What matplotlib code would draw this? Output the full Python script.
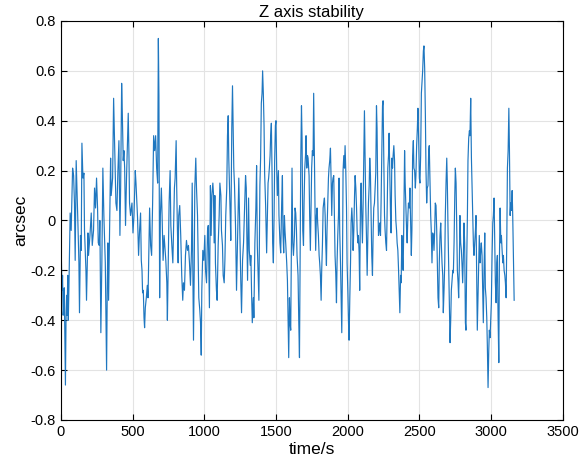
import matplotlib
matplotlib.use('Agg')
import matplotlib.pyplot as plt
from matplotlib.ticker import FuncFormatter

plt.rcParams['font.family'] = ['Liberation Sans', 'DejaVu Sans']
plt.rcParams['axes.unicode_minus'] = False

# time (s) and Z axis error (arcsec)
time_s = [
    0, 3, 8, 12, 16, 20, 24, 28, 32, 36, 40, 44, 48, 52, 56,
    65, 72, 82, 89, 95, 100, 107, 112, 119, 126, 130, 137, 142, 147, 154,
    161, 165, 175, 179, 189, 193, 203, 212, 219, 228, 235, 242, 249, 256, 261,
    268, 272, 279, 286, 293, 300, 310, 319, 324,
    328, 333, 347, 351, 361, 368, 375, 384, 391, 398, 405, 412, 417, 424, 428,
    435, 440, 445, 451, 458, 465, 470, 475, 479, 486, 496, 503, 510, 519, 524,
    528, 535, 542, 549, 556, 561, 566, 570, 575, 580, 584, 589, 596, 603, 608,
    615, 619, 626, 633, 640, 647, 654, 661, 668, 675, 680, 684, 689,
    694, 701, 706, 713, 720, 725, 732, 739, 743, 748, 755, 762, 767, 774, 781,
    785, 792, 797, 804, 808, 813, 818, 822, 829, 836, 843, 850, 855, 862, 869,
    876, 883, 890, 897, 904, 911, 916, 920, 925, 930, 934, 941, 946, 953, 958,
    962, 969, 974, 979, 983, 990, 997, 1004, 1009, 1016, 1023, 1028,
    1032, 1036, 1043, 1048, 1053, 1060, 1064, 1069, 1074, 1078, 1085, 1090, 1097, 1104, 1109,
    1116, 1120, 1127, 1132, 1139, 1144, 1150, 1157, 1162, 1167, 1171, 1176, 1181, 1185, 1192,
    1197, 1202, 1206, 1211, 1218, 1225, 1232, 1237, 1241, 1248, 1255, 1260, 1267, 1274, 1281,
    1288, 1293, 1297, 1302, 1309, 1314, 1321, 1325, 1330, 1335, 1342, 1346, 1353, 1360, 1365,
    1370, 1377, 1381, 1388,
    1393, 1398, 1403, 1407, 1412, 1417, 1421, 1428, 1435, 1440, 1445, 1449, 1454, 1459, 1463,
    1468, 1473, 1477, 1482, 1487, 1491, 1496, 1500, 1505, 1510, 1517, 1521, 1528, 1533, 1540,
    1545, 1549, 1554, 1559, 1563, 1568, 1575, 1580, 1584, 1589, 1594, 1598, 1603, 1608, 1612,
    1617, 1622, 1629, 1633, 1638, 1643, 1647, 1654, 1659, 1664, 1668, 1673, 1678, 1682, 1687,
    1692, 1696, 1701, 1706, 1710, 1715, 1720, 1724,
    1731, 1735, 1740, 1745, 1749, 1754, 1759, 1763, 1768, 1773, 1777, 1782, 1787, 1791, 1796,
    1801, 1805, 1810, 1815, 1819, 1824, 1829, 1833, 1838, 1843, 1847, 1852, 1856, 1861, 1866,
    1870, 1875, 1880, 1884, 1889, 1894, 1898, 1903, 1908, 1912, 1917, 1922, 1926, 1931, 1936,
    1940, 1945, 1950, 1954, 1959, 1964, 1968, 1973, 1978, 1982, 1987, 1992, 1996, 2001, 2006,
    2010, 2015, 2020, 2024, 2029, 2034, 2038, 2043, 2048, 2052, 2057, 2062, 2066, 2071,
    2075, 2080, 2084, 2089, 2094, 2098, 2103, 2108, 2112, 2117, 2122, 2126, 2131, 2136, 2140,
    2145, 2150, 2154, 2159, 2164, 2168, 2173, 2178, 2182, 2187, 2192, 2196, 2201, 2205, 2210,
    2215, 2219, 2224, 2229, 2233, 2238, 2243, 2247, 2252, 2257, 2261, 2266, 2271, 2275, 2280,
    2285, 2289, 2294, 2299, 2303, 2308, 2313, 2317, 2322, 2327, 2331, 2336, 2341, 2345, 2350,
    2355, 2359, 2364, 2369, 2373, 2378, 2383, 2387, 2392, 2397, 2401, 2406, 2411, 2415, 2420,
    2424, 2430, 2434, 2439, 2444, 2448, 2453, 2458, 2462, 2467, 2472, 2476, 2481, 2486, 2490,
    2495, 2500, 2504, 2509, 2514, 2518, 2523, 2528, 2532, 2537, 2542, 2546, 2551, 2555, 2560,
    2565, 2569, 2574, 2579, 2583, 2588, 2593, 2597, 2602, 2607, 2611, 2616, 2621, 2625, 2630,
    2635, 2639, 2644, 2649, 2653, 2658, 2663, 2667, 2672, 2677, 2681, 2686, 2691, 2695, 2700,
    2705, 2709, 2714, 2719, 2723, 2728, 2733, 2737, 2742, 2747, 2751, 2756, 2761, 2765, 2770,
    2774, 2779, 2783, 2788, 2793, 2797, 2802, 2807, 2811, 2816, 2821, 2825, 2830, 2835, 2839,
    2844, 2849, 2853, 2858, 2863, 2867, 2872, 2877, 2881, 2886, 2891, 2895, 2900, 2904, 2909,
    2914, 2918, 2923, 2928, 2932, 2937, 2942, 2946, 2951, 2956, 2960, 2965, 2970, 2974, 2979,
    2984, 2988, 2993, 2998, 3002, 3007, 3012, 3016, 3021, 3026, 3030, 3035, 3040, 3044, 3049,
    3054, 3058, 3063, 3068, 3072, 3077, 3082, 3086, 3091, 3096, 3100, 3105, 3110, 3114, 3119,
    3124, 3128, 3133, 3137, 3142, 3147, 3151, 3156, 3161,
]

z_arcsec = [
    -0.68, -0.13, -0.28, -0.22, -0.38, -0.35, -0.27, -0.45, -0.66, -0.40, -0.30, -0.38, -0.22, -0.40, -0.28,
    0.03, -0.04, 0.21, 0.18, 0.07, -0.16, 0.24, 0.14, -0.01, -0.17, -0.37, -0.06, -0.12, 0.31, 0.17,
    0.19, -0.04, -0.20, -0.32, -0.05, -0.14, -0.06, 0.03, -0.10, -0.04, 0.13, 0.05, 0.17, 0.05, -0.09,
    -0.10, 0.00, -0.45, -0.17, 0.21, 0.02, -0.17, -0.60, -0.25,
    -0.09, -0.32, 0.25, 0.10, 0.17, 0.49, 0.30, 0.07, 0.04, 0.20, 0.32, -0.06, 0.13, 0.55, 0.45,
    0.24, 0.28, 0.21, -0.02, 0.17, 0.33, 0.43, 0.26, 0.07, 0.02, 0.07, -0.05, 0.02, 0.20, 0.15,
    0.10, 0.01, -0.14, -0.04, 0.03, -0.16, -0.20, -0.29, -0.28, -0.39, -0.43, -0.35, -0.31, -0.26, -0.31,
    -0.09, 0.05, -0.10, -0.14, 0.07, 0.34, 0.28, 0.34, 0.21, 0.15, 0.73, 0.50, -0.31,
    0.02, 0.13, 0.02, -0.16, -0.06, -0.10, -0.16, -0.25, -0.40, -0.20, 0.07, 0.20, -0.02, -0.10, -0.17,
    -0.06, 0.13, 0.17, 0.32, 0.13, -0.04, -0.17, 0.02, 0.06, -0.06, -0.22, -0.32, -0.25, -0.28, -0.14,
    -0.08, -0.12, -0.10, -0.17, -0.26, -0.12, 0.15, -0.17, -0.48, -0.20, 0.13, 0.25, 0.13, 0.02, -0.16,
    -0.31, -0.36, -0.41, -0.54, -0.28, -0.12, -0.16, -0.06, -0.20, -0.25, -0.04, -0.02,
    -0.20, -0.35, 0.14, -0.06, 0.10, 0.15, 0.11, -0.09, 0.10, -0.17, -0.28, -0.32, -0.10, 0.02, 0.15,
    0.10, -0.04, -0.10, -0.22, -0.25, -0.16, 0.02, 0.13, 0.34, 0.42, 0.25, 0.14, 0.02, -0.08, 0.37,
    0.54, 0.37, 0.21, 0.14, -0.02, -0.28, -0.09, 0.05, 0.17, -0.04, -0.25, -0.37, -0.16, -0.09, 0.05,
    0.18, 0.13, -0.06, -0.24, 0.09, -0.12, -0.18, -0.14, -0.29, -0.41, -0.31, -0.39, -0.09, 0.05, 0.22,
    -0.10, -0.25, -0.32, 0.14,
    0.25, 0.47, 0.51, 0.60, 0.51, 0.38, 0.19, 0.06, -0.13, 0.02, 0.15, 0.17, 0.21, 0.26, 0.34,
    0.39, 0.18, -0.09, -0.17, 0.02, 0.24, 0.38, 0.40, 0.21, 0.10, 0.20, 0.02, -0.09, -0.13, 0.07,
    0.18, -0.05, -0.13, 0.02, -0.04, -0.09, -0.17, -0.24, -0.37, -0.55, -0.31, -0.41, -0.44, -0.06, 0.21,
    -0.09, -0.14, -0.06, 0.05, 0.03, -0.04, -0.14, -0.22, -0.40, -0.55, -0.17, 0.24, 0.46, 0.33, -0.04,
    -0.10, 0.07, 0.21, 0.26, 0.34, 0.21, 0.26, 0.25,
    0.18, 0.02, -0.12, 0.07, 0.21, 0.28, 0.26, 0.51, 0.26, 0.02, -0.12, 0.02, 0.05, -0.01, -0.06,
    -0.14, -0.17, -0.22, -0.32, -0.20, -0.10, 0.05, 0.07, 0.09, 0.02, -0.09, -0.18, -0.04, 0.07, 0.17,
    0.21, 0.24, 0.29, 0.18, 0.02, 0.15, 0.17, 0.18, -0.01, -0.14, -0.21, -0.33, -0.17, -0.06, 0.02,
    0.17, -0.05, -0.17, -0.29, -0.45, -0.17, 0.20, 0.26, 0.21, 0.30, 0.20, 0.05, -0.17, -0.28, -0.41,
    -0.48, -0.31, -0.17, -0.01, 0.05, -0.01, -0.12, -0.04, 0.10, 0.18, 0.13, 0.05, -0.04, -0.09,
    -0.06, -0.13, -0.28, 0.05, 0.15, 0.02, -0.09, 0.07, 0.24, 0.44, 0.24, 0.07, -0.06, -0.22, -0.09,
    0.07, 0.14, 0.25, 0.18, -0.01, -0.14, -0.22, -0.04, 0.05, 0.07, 0.14, 0.19, 0.46, 0.37, 0.10,
    -0.06, -0.04, -0.01, -0.06, 0.07, 0.26, 0.46, 0.48, 0.24, 0.02, -0.04, -0.09, -0.12, 0.02, 0.21,
    0.26, 0.35, 0.19, 0.02, -0.05, 0.25, 0.21, 0.26, 0.30, 0.24, 0.10, 0.00, -0.04, -0.09, -0.12,
    -0.20, -0.28, -0.37, -0.22, -0.25, -0.06, -0.17, -0.20, 0.02, 0.28, 0.15, 0.05, -0.04, -0.09, 0.02,
    0.07, 0.05, 0.13, -0.01, -0.14, -0.04, 0.26, 0.32, 0.21, 0.20, 0.13, 0.18, 0.30, 0.37, 0.45,
    0.33, 0.17, 0.15, 0.26, 0.51, 0.55, 0.60, 0.68, 0.70, 0.61, 0.42, 0.21, 0.07, 0.13, 0.14,
    0.28, 0.30, 0.15, 0.02, -0.04, -0.17, -0.05, -0.06, -0.12, -0.04, 0.07, 0.06, -0.04, -0.17, -0.31,
    -0.35, -0.17, -0.06, -0.01, -0.09, -0.17, -0.22, -0.37, -0.28, -0.17, 0.02, 0.15, 0.25, 0.15, -0.04,
    -0.20, -0.33, -0.49, -0.39, -0.28, -0.24, -0.20, -0.21, -0.09, 0.10, 0.21, 0.15, -0.04, -0.20, -0.25,
    -0.31, -0.17, 0.02, -0.09, -0.12, -0.17, -0.25, -0.14, -0.01, -0.09, -0.41, -0.44, -0.17, 0.02, 0.24,
    0.33, 0.36, 0.34, 0.49, 0.25, 0.15, 0.02, -0.10, -0.14, -0.09, -0.04, 0.02, -0.25, -0.44, -0.31,
    -0.17, -0.06, -0.17, -0.12, -0.09, -0.14, -0.28, -0.41, -0.20, -0.05, -0.27, -0.31, -0.39, -0.50, -0.67,
    -0.52, -0.44, -0.47, -0.39, -0.33, -0.14, -0.01, 0.02, 0.09, -0.09, -0.25, -0.33, -0.17, -0.14, -0.39,
    -0.57, -0.17, 0.05, -0.09, -0.06, -0.12, -0.17, -0.14, -0.20, -0.22, -0.25, -0.31, -0.06, 0.21, 0.28,
    0.45, 0.29, 0.02, 0.07, 0.04, 0.12, 0.02, -0.15, -0.32,
]

x_ticks = [0, 500, 1000, 1500, 2000, 2500, 3000, 3500]
y_ticks = [-0.8, -0.6, -0.4, -0.2, 0, 0.2, 0.4, 0.6, 0.8]

fig = plt.figure(figsize=(5.85, 4.68), dpi=100)
ax = fig.add_axes([0.104, 0.1026, 0.858, 0.8526])

ax.plot(time_s, z_arcsec, color='#1f77c0', linewidth=0.85)

ax.set_xlim(0, 3500)
ax.set_ylim(-0.8, 0.8)
ax.set_xticks(x_ticks)
ax.set_yticks(y_ticks)
ax.yaxis.set_major_formatter(FuncFormatter(lambda v, p: '0' if abs(v) < 1e-9 else f'{v:.1f}'))

ax.grid(True, color='#e3e3e3', linewidth=0.8)
ax.set_axisbelow(True)
ax.tick_params(direction='in', top=True, right=True, length=4, width=0.8, labelsize=10.5)
for s in ax.spines.values():
    s.set_linewidth(0.8)

ax.set_title('Z axis stability', fontsize=12, pad=3)
ax.set_xlabel('time/s', fontsize=12.5, labelpad=2)
ax.set_ylabel('arcsec', fontsize=12.5, labelpad=2)

fig.savefig('out.png', dpi=100)
